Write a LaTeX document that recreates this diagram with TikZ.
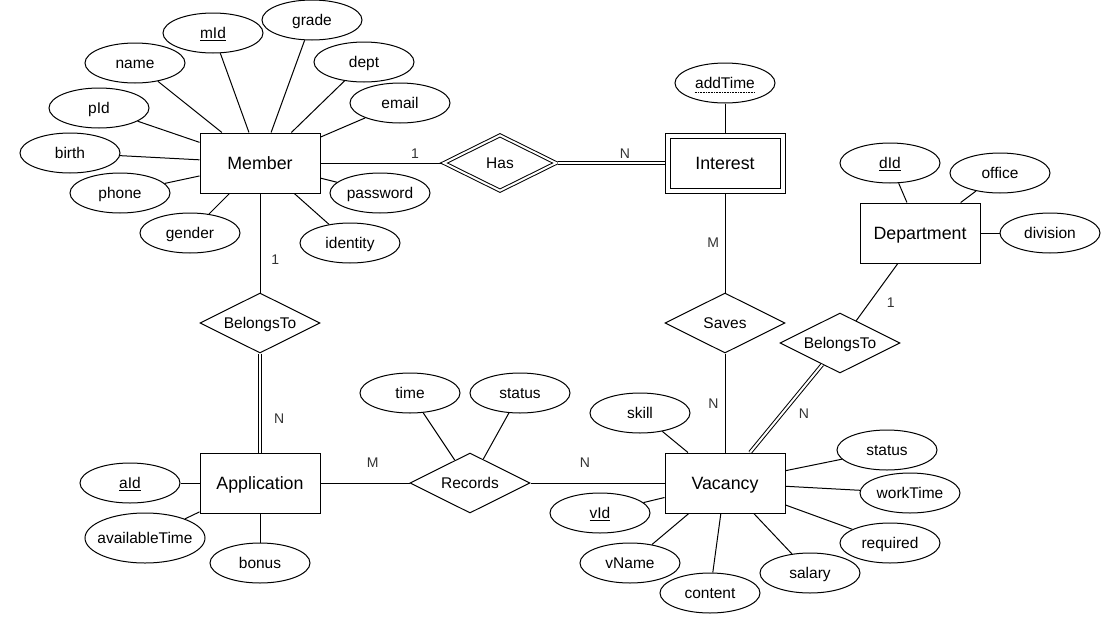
\documentclass[tikz,border=0pt]{standalone}
\usepackage{fontspec}
\setmainfont{Liberation Sans}
\usetikzlibrary{shapes.geometric}
\begin{document}
\begin{tikzpicture}[x=1pt,y=-1pt,
  every node/.style={text=black},
  entity/.style={draw, line width=1pt, fill=white, minimum width=120pt, minimum height=60pt,
    inner sep=0pt, font=\fontsize{17.8}{20}\selectfont, text height=12.8pt, text depth=0pt},
  weakentity/.style={entity, double, double distance=4pt, minimum width=115pt,
    minimum height=55pt, outer sep=2.5pt},
  rel/.style={draw, line width=1pt, fill=white, diamond, shape aspect=2, minimum width=120pt,
    minimum height=60pt, inner sep=0pt, font=\fontsize{15.5}{18}\selectfont,
    text height=11.2pt, text depth=0pt},
  weakrel/.style={rel, double, double distance=2pt, minimum width=113.3pt,
    minimum height=56.6pt, outer sep=1.5pt},
  attr/.style={draw, line width=1pt, fill=white, ellipse, minimum width=100pt,
    minimum height=40pt, inner sep=0pt, font=\fontsize{15.5}{18}\selectfont,
    text height=11.2pt, text depth=0pt},
  card/.style={inner sep=0pt, text=black!80, font=\fontsize{14}{16}\selectfont},
  link/.style={line width=1pt},
  total/.style={line width=1pt, double, double distance=2pt}
]
\useasboundingbox (0,0) rectangle (1101,640);
\fill[white] (0,0) rectangle (1101,640);

% entities
\node[entity] (member) at (260,163) {Member};
\node[weakentity] (interest) at (725,163) {Interest};
\node[entity] (dept) at (920,233) {Department};
\node[entity] (application) at (260,483) {Application};
\node[entity] (vacancy) at (725,483) {Vacancy};

% relationships
\node[weakrel] (has) at (500,163) {Has};
\node[rel] (belongsA) at (260,323) {BelongsTo};
\node[rel] (saves) at (725,323) {Saves};
\node[rel] (belongsB) at (840,343) {BelongsTo};
\node[rel] (records) at (470,483) {Records};

% Member attributes
\node[attr] (mid) at (213,33) {\underline{mId}};
\node[attr] (grade) at (312,20) {grade};
\node[attr] (name) at (135,63) {name};
\node[attr] (mdept) at (364,62) {dept};
\node[attr] (pid) at (99,108) {pId};
\node[attr] (email) at (400,103) {email};
\node[attr] (birth) at (70,153) {birth};
\node[attr] (phone) at (120,193) {phone};
\node[attr] (password) at (380,193) {password};
\node[attr] (gender) at (190,233) {gender};
\node[attr] (identity) at (350,243) {identity};
\foreach \a in {mid,grade,name,mdept,pid,email,birth,phone,password,gender,identity}
  \draw[link] (\a) -- (member);

% Interest attribute (partial key)
\node[attr] (addtime) at (725,83) {addTime};
\draw[line width=0.8pt, dash pattern=on 0.8pt off 0.8pt]
  ([xshift=-30.3pt,yshift=-3.4pt]addtime.base) -- ([xshift=30.3pt,yshift=-3.4pt]addtime.base);
\draw[link] (addtime) -- (interest);

% Department attributes
\node[attr] (did) at (890,163) {\underline{dId}};
\node[attr] (office) at (1000,173) {office};
\node[attr] (division) at (1050,233) {division};
\foreach \a in {did,office,division}
  \draw[link] (\a) -- (dept);

% Application attributes
\node[attr] (aid) at (130,483) {\underline{aId}};
\node[attr, minimum width=120pt, minimum height=50pt] (availtime) at (145,538) {\makebox[0pt]{availableTime}};
\node[attr] (bonus) at (260,563) {bonus};
\foreach \a in {aid,availtime,bonus}
  \draw[link] (\a) -- (application);

% Records attributes
\node[attr] (rtime) at (410,393) {time};
\node[attr] (rstatus) at (520,393) {status};
\foreach \a in {rtime,rstatus}
  \draw[link] (\a) -- (records);

% Vacancy attributes
\node[attr] (skill) at (640,413) {skill};
\node[attr] (vid) at (600,513) {\underline{vId}};
\node[attr] (vname) at (630,563) {vName};
\node[attr] (content) at (710,593) {content};
\node[attr] (salary) at (810,573) {salary};
\node[attr] (required) at (890,543) {required};
\node[attr] (worktime) at (910,493) {workTime};
\node[attr] (vstatus) at (887,450) {status};
\foreach \a in {skill,vid,vname,content,salary,required,worktime,vstatus}
  \draw[link] (\a) -- (vacancy);

% relationship connectors
\draw[link] (member) -- (has);
\draw[total] (has) -- (interest);
\draw[link] (member) -- (belongsA);
\draw[total] (belongsA) -- (application);
\draw[link] (interest) -- (saves);
\draw[link] (saves) -- (vacancy);
\draw[link] (dept) -- (belongsB);
\draw[total] (belongsB) -- (vacancy);
\draw[link] (application) -- (records);
\draw[link] (records) -- (vacancy);

% cardinalities
\node[card] (c1) at (415,153.3) {1};
\node[card] (c2) at (625,153.3) {N};
\node[card] (c3) at (275.3,260) {1};
\node[card] (c4) at (279.3,418.3) {N};
\node[card] (c5) at (713.3,242.7) {M};
\node[card] (c6) at (713.3,403.3) {N};
\node[card] (c7) at (890.7,302.3) {1};
\node[card] (c8) at (804,414) {N};
\node[card] (c9) at (372.7,462.7) {M};
\node[card] (c10) at (585,462.7) {N};
\end{tikzpicture}
\end{document}
